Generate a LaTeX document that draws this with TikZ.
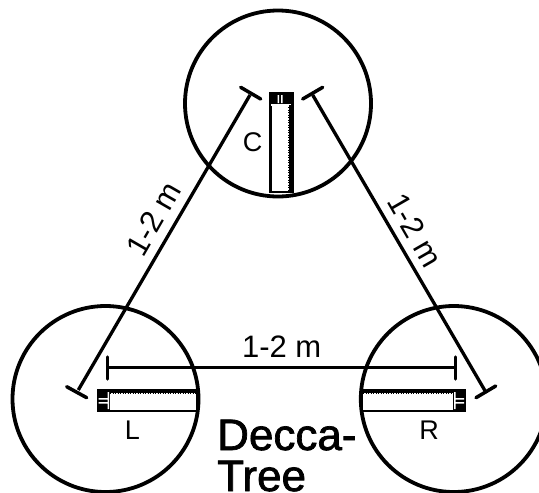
\documentclass[tikz,border=0pt]{standalone}
\usepackage{fontspec}
\setmainfont{Liberation Sans}
\newfontfamily\titlefont[FakeBold=1.6]{Liberation Sans}
\tikzset{
  x=1pt,y=-1pt,
  zone/.style={circle,draw,line width=3.8pt,minimum size=186pt,inner sep=0pt},
  arm/.style={line width=3.3pt},
  tbar/.style={line width=3.5pt,line cap=round},
  micbody/.style={draw,line width=2.4pt,fill=white,inner sep=0pt},
  stipple/.style={line width=1.2pt,dash pattern=on 1.2pt off 1.3pt},
  lab/.style={font=\fontsize{27}{27}\selectfont,inner sep=0pt},
  dist/.style={font=\fontsize{31}{31}\selectfont,inner sep=0pt,anchor=base},
  title/.style={font=\titlefont\fontsize{44}{44}\selectfont,inner sep=0pt,anchor=base west},
}
\begin{document}
\begin{tikzpicture}
\useasboundingbox (0,0) rectangle (539,493);
\node[zone] (zc) at (278,103.5) {};
\node[zone] (zl) at (105.5,399) {};
\node[zone] (zr) at (453.8,399) {};
% centre mic
\node[micbody,minimum width=22pt,minimum height=99pt] (mc) at (281.3,142.3) {};
\fill (269.3,91.5) rectangle (293.3,104);
\fill[white] (277.5,95) rectangle (279,103) (281,95) rectangle (282.5,103);
\fill (289,105) rectangle (293.3,193);
\fill[white] (271,104) rectangle (288.5,105.5);
\draw[stipple] (288.4,107) -- (288.4,191);
\node[lab] (cl) at (252.5,142) {C};
% left mic
\node[micbody,minimum width=99pt,minimum height=21pt] (ml) at (147.5,400.7) {};
\fill (96.7,389) rectangle (110,412.3);
\fill[white] (98.5,398) rectangle (108,399.5) (98.5,402) rectangle (108,403.5) (107.5,392) rectangle (109,409);
\fill (110,389) rectangle (197,393);
\draw[stipple] (110,393.6) -- (196,393.6);
\node[lab] (ll) at (132.5,430) {L};
% right mic
\node[micbody,minimum width=103pt,minimum height=21pt] (mr) at (413.5,400.7) {};
\fill (453,389) rectangle (466,412.3);
\fill[white] (455,398) rectangle (464,399.5) (455,402) rectangle (464,403.5) (454,392) rectangle (455.5,409);
\fill (362,389) rectangle (453,393);
\draw[stipple] (363,393.6) -- (453,393.6);
\node[lab] (rl) at (429,430) {R};
% spacing lines
\coordinate (ct1) at (250,95);
\coordinate (ct2) at (312.7,95);
\coordinate (lt1) at (78.3,390);
\coordinate (rt1) at (485,390.7);
\coordinate (hl) at (107.7,367.7);
\coordinate (hr) at (455.3,367.7);
\draw[arm] (ct1) -- (lt1);
\draw[arm] (ct2) -- (rt1);
\draw[arm] (hl) -- (hr);
\draw[tbar] (240.7,87.3) -- (260.7,99);
\draw[tbar] (302.7,99) -- (322.7,87.3);
\draw[tbar] (66.7,386.7) -- (86.7,397.7);
\draw[tbar] (476,397.7) -- (495.7,386);
\draw[tbar] (107.7,357) -- (107.7,379);
\draw[tbar] (455.3,357) -- (455.3,379);
\node[dist,rotate=60] (d1) at (163,224) {1-2 m};
\node[dist,rotate=-60] (d2) at (406,236) {1-2 m};
\node[dist] (d3) at (281.7,357.7) {1-2 m};
\node[title] (t1) at (217,450) {Decca-};
\node[title] (t2) at (217,491) {Tree};
\end{tikzpicture}
\end{document}
